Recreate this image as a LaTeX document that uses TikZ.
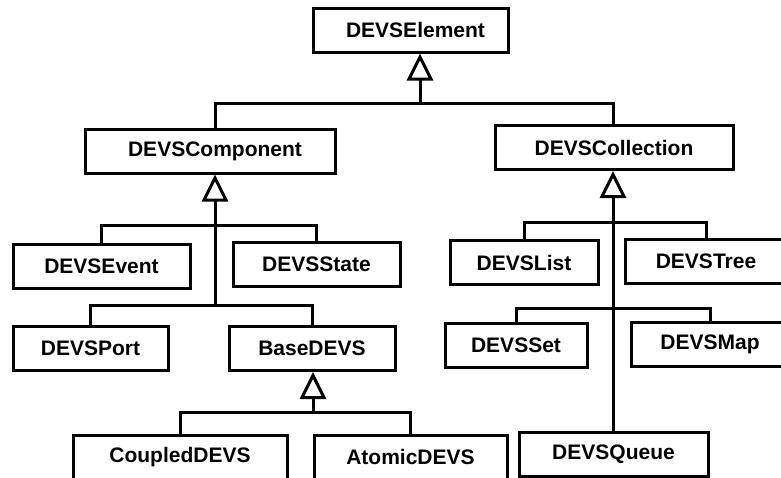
\documentclass[tikz,border=0pt]{standalone}
\usepackage{fontspec}
\setmainfont{Liberation Sans}
\usepackage{tikz}
\usetikzlibrary{arrows.meta,calc,positioning}

\begin{document}
\begin{tikzpicture}[x=1pt,y=-1pt,
  cls/.style={rectangle,draw,line width=3pt,minimum height=44pt,inner sep=0pt,
              font=\fontsize{21}{25}\selectfont\bfseries},
  link/.style={line width=3pt},
  inherit/.style={line width=3pt,-{Triangle[width=26pt,length=27pt,fill=white]}}]

\useasboundingbox (0,0) rectangle (781,477);
\clip (0,0) rectangle (781,477);

\node[cls,minimum width=195pt] (elem) at (410.5,30) {\hspace*{10pt}DEVSElement};
\node[cls,minimum width=250pt] (comp) at (210,151) {\hspace*{10pt}DEVSComponent};
\node[cls,minimum width=238pt] (coll) at (614,147.5) {DEVSCollection};

\node[cls,minimum width=177pt] (event) at (101.5,266.5) {DEVSEvent};
\node[cls,minimum width=167pt] (state) at (316.5,264) {DEVSState};
\node[cls,minimum width=155pt] (port) at (90.5,348.5) {DEVSPort};
\node[cls,minimum width=166pt] (base) at (312,348.5) {BaseDEVS};
\node[cls,minimum width=214pt] (coupled) at (180,457) {CoupledDEVS};
\node[cls,minimum width=193pt] (atomic) at (410.5,457) {AtomicDEVS};

\node[cls,minimum width=148pt] (list) at (524,262.5) {DEVSList};
\node[cls,minimum width=162pt] (tree) at (706,261.5) {DEVSTree};
\node[cls,minimum width=142pt] (set) at (516,345) {DEVSSet};
\node[cls,minimum width=158pt] (map) at (710,344) {DEVSMap};
\node[cls,minimum width=189pt] (queue) at (613.5,454.5) {DEVSQueue};

% junctions of the inheritance trees
\coordinate (j1) at (420,103);
\coordinate (j2a) at (215,225);
\coordinate (j2b) at (215,305);
\coordinate (j3) at (313,412);
\coordinate (j4a) at (613,222);
\coordinate (j4b) at (613,308);

% DEVSElement
\draw[link] (comp.north -| j2a) |- (j1) -| (coll.north -| j4a);
\draw[inherit] (j1) -- (elem.south -| j1);

% DEVSComponent
\draw[link] (event.north) |- (j2a) -| (state.north);
\draw[link] (port.north) |- (j2b) -| (base.north);
\draw[inherit] (j2b) -- (comp.south -| j2b);

% BaseDEVS
\draw[link] (coupled.north) |- (j3) -| (atomic.north);
\draw[inherit] (j3) -- (base.south -| j3);

% DEVSCollection
\draw[link] (list.north) |- (j4a) -| (tree.north);
\draw[link] (set.north) |- (j4b) -| (map.north);
\draw[inherit] (queue.north -| j4a) -- (coll.south -| j4a);
\end{tikzpicture}
\end{document}
